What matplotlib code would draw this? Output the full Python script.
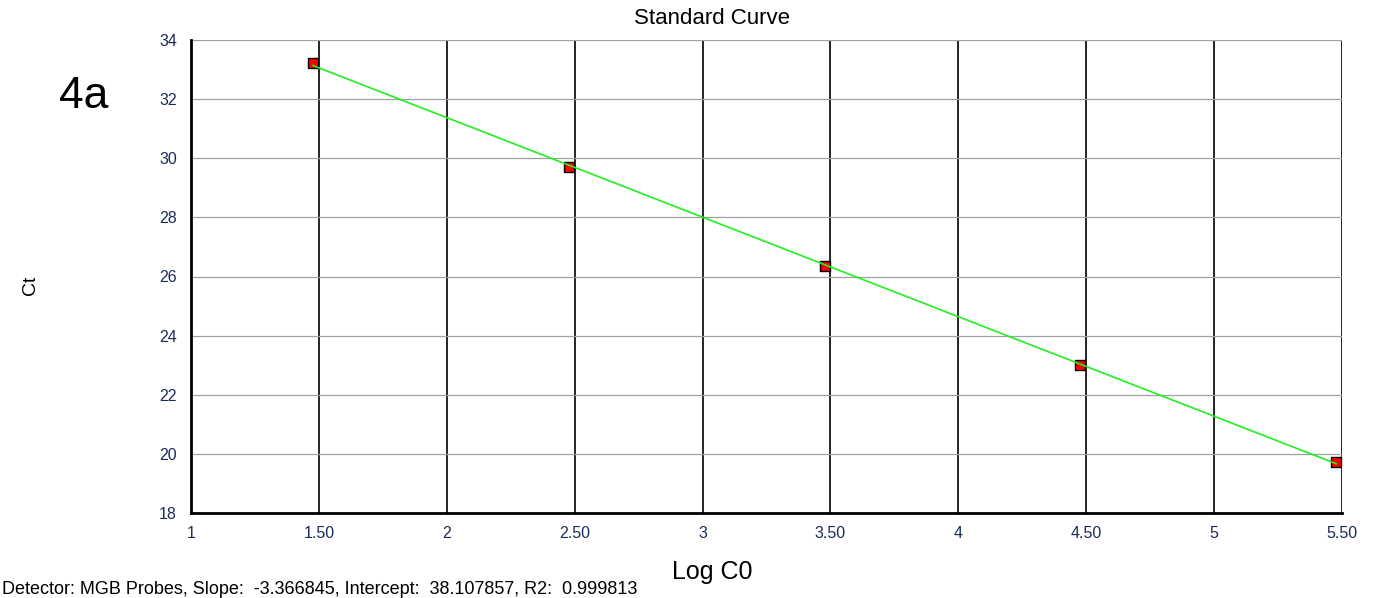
import matplotlib

matplotlib.use('Agg')
import matplotlib.pyplot as plt
import numpy as np

plt.rcParams['font.family'] = ['Liberation Sans', 'DejaVu Sans']

# standard curve data
log_c0 = [1.477, 2.477, 3.477, 4.477, 5.477]
ct = [33.22, 29.70, 26.35, 23.02, 19.73]
slope = -3.366845
intercept = 38.107857
r2 = 0.999813

x_ticks = [1, 1.5, 2, 2.5, 3, 3.5, 4, 4.5, 5, 5.5]
x_tick_labels = ['1', '1.50', '2', '2.50', '3', '3.50', '4', '4.50', '5', '5.50']
y_ticks = [18, 20, 22, 24, 26, 28, 30, 32, 34]

fig = plt.figure(figsize=(13.76, 5.98), dpi=100)
ax = fig.add_axes([191 / 1376, 1 - 513 / 598, (1342 - 191) / 1376, (513 - 40) / 598])

# grid: black verticals, grey horizontals
for xv in x_ticks[1:]:
    ax.axvline(xv, color='black', lw=1.2, zorder=1)
for yv in y_ticks[1:]:
    ax.axhline(yv, color='#a0a0a0', lw=0.9, zorder=1)

# fitted line
xf = np.array([log_c0[0], log_c0[-1]])
ax.plot(xf, slope * xf + intercept, color='#22ee22', lw=1.2, zorder=3)

ax.scatter(log_c0, ct, marker='s', s=60, color='#ff0000', edgecolors='black',
           linewidths=1.0, zorder=2)

ax.set_xlim(1, 5.5)
ax.set_ylim(18, 34)
ax.set_xticks(x_ticks)
ax.set_xticklabels(x_tick_labels)
ax.set_yticks(y_ticks)
ax.tick_params(length=0, labelsize=11.5, colors='#1c2a5a')
ax.tick_params(axis='x', pad=9)
ax.tick_params(axis='y', pad=10)

for side in ['left', 'bottom']:
    ax.spines[side].set_linewidth(2)
for side in ['top', 'right']:
    ax.spines[side].set_visible(False)

fig.text(712 / 1376, 1 - 18 / 598, 'Standard Curve', ha='center', va='center', fontsize=16)
fig.text(30 / 1376, 1 - 285 / 598, 'Ct', ha='center', va='center', rotation=90, fontsize=14)
fig.text(712 / 1376, 1 - 572 / 598, 'Log C0', ha='center', va='center', fontsize=18)
fig.text(84 / 1376, 1 - 96 / 598, '4a', ha='center', va='center', fontsize=32)
fig.text(2 / 1376, 1 - 590 / 598,
         f'Detector: MGB Probes, Slope:  {slope:.6f}, Intercept:  {intercept:.6f}, R2:  {r2:.6f}',
         ha='left', va='center', fontsize=13)

fig.savefig('out.png', dpi=100)
